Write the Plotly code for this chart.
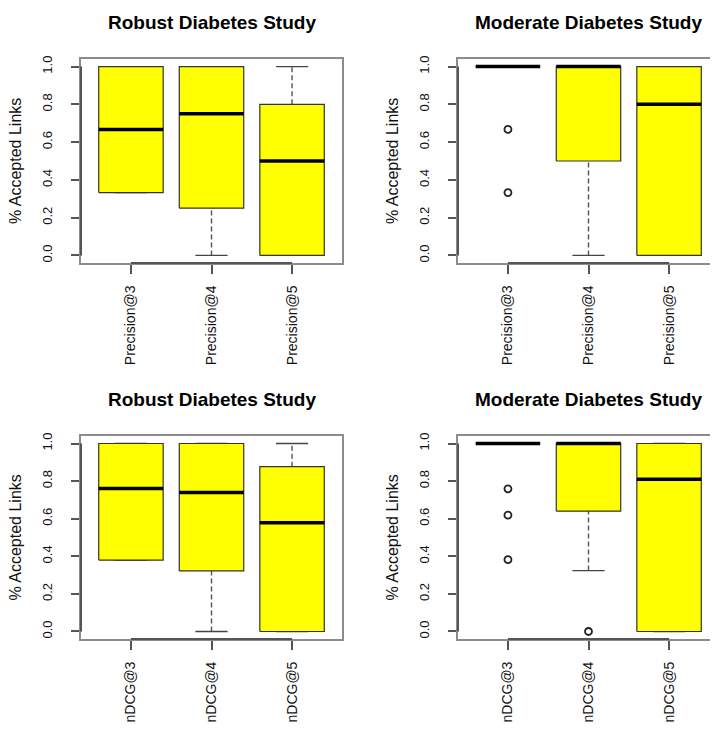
import plotly.graph_objects as go

# ---------------- data ----------------
precision_labels = ["Precision@3", "Precision@4", "Precision@5"]
ndcg_labels = ["nDCG@3", "nDCG@4", "nDCG@5"]
y_tick_vals = [0.0, 0.2, 0.4, 0.6, 0.8, 1.0]
y_tick_text = ["0.0", "0.2", "0.4", "0.6", "0.8", "1.0"]

panel_titles = ["Robust Diabetes Study", "Moderate Diabetes Study",
                "Robust Diabetes Study", "Moderate Diabetes Study"]
y_title = "% Accepted Links"

# Robust - precision
rp_q1 = [0.333, 0.25, 0.0]
rp_med = [0.667, 0.75, 0.5]
rp_q3 = [1.0, 1.0, 0.8]
rp_lo = [0.333, 0.0, 0.0]
rp_hi = [1.0, 1.0, 1.0]
rp_out = [[], [], []]

# Moderate - precision
mp_q1 = [1.0, 0.5, 0.0]
mp_med = [1.0, 1.0, 0.8]
mp_q3 = [1.0, 1.0, 1.0]
mp_lo = [1.0, 0.0, 0.0]
mp_hi = [1.0, 1.0, 1.0]
mp_out = [[0.667, 0.333], [], []]

# Robust - nDCG
rn_q1 = [0.38, 0.322, 0.0]
rn_med = [0.761, 0.740, 0.578]
rn_q3 = [1.0, 1.0, 0.877]
rn_lo = [0.38, 0.0, 0.0]
rn_hi = [1.0, 1.0, 1.0]
rn_out = [[], [], []]

# Moderate - nDCG
mn_q1 = [1.0, 0.64, 0.0]
mn_med = [1.0, 1.0, 0.81]
mn_q3 = [1.0, 1.0, 1.0]
mn_lo = [1.0, 0.324, 0.0]
mn_hi = [1.0, 1.0, 1.0]
mn_out = [[0.759, 0.619, 0.382], [0.0], []]

panels = [
    (precision_labels, rp_q1, rp_med, rp_q3, rp_lo, rp_hi, rp_out),
    (precision_labels, mp_q1, mp_med, mp_q3, mp_lo, mp_hi, mp_out),
    (ndcg_labels, rn_q1, rn_med, rn_q3, rn_lo, rn_hi, rn_out),
    (ndcg_labels, mn_q1, mn_med, mn_q3, mn_lo, mn_hi, mn_out),
]

# ---------------- layout geometry (pixels) ----------------
OFF = 8  # default page body margin
W, H = 718 - OFF, 731 - OFF
FONT = "Liberation Sans, Arial, Helvetica, sans-serif"
BOX_HALF = 0.4
STAPLE_HALF = 0.2
# plot-box page-pixel rectangles: (left, right, top, bottom)
page_rects = [(81, 342, 59, 263), (458, 718, 59, 263),
              (81, 342, 436, 639), (458, 718, 436, 639)]
rects = [(l - OFF, r - OFF, t - OFF, b - OFF) for (l, r, t, b) in page_rects]
PX_PER_UNIT = 261 / 3.24

fig = go.Figure()
layout = dict(width=W, height=H, autosize=False,
              margin=dict(l=0, r=0, t=0, b=0),
              paper_bgcolor="white", plot_bgcolor="white",
              showlegend=False, font=dict(family=FONT, color="black"))
annotations = []
shapes = []

for k, (labels, q1, med, q3, lo, hi, outs) in enumerate(panels):
    ax = "" if k == 0 else str(k + 1)
    xa, ya = "x" + ax, "y" + ax
    L, R, T, B = rects[k]
    R = min(R, W)
    xmin = 0.38
    xmax = xmin + (R - L) / PX_PER_UNIT
    n = len(labels)
    pos = list(range(1, n + 1))

    # whiskers (dashed) and staples
    wx, wy, sx, sy = [], [], [], []
    for i in range(n):
        c = pos[i]
        if lo[i] < q1[i]:
            wx += [c, c, None]; wy += [lo[i], q1[i], None]
        if hi[i] > q3[i]:
            wx += [c, c, None]; wy += [q3[i], hi[i], None]
        sx += [c - STAPLE_HALF, c + STAPLE_HALF, None, c - STAPLE_HALF, c + STAPLE_HALF, None]
        sy += [lo[i], lo[i], None, hi[i], hi[i], None]
    fig.add_trace(go.Scatter(x=wx, y=wy, mode="lines", xaxis=xa, yaxis=ya,
                             line=dict(color="#555555", width=1.4, dash="5px,3px"),
                             hoverinfo="skip"))
    fig.add_trace(go.Scatter(x=sx, y=sy, mode="lines", xaxis=xa, yaxis=ya,
                             line=dict(color="#444444", width=1.3), hoverinfo="skip"))
    # boxes
    bx, by = [], []
    for i in range(n):
        c = pos[i]
        bx += [c - BOX_HALF, c + BOX_HALF, c + BOX_HALF, c - BOX_HALF, c - BOX_HALF, None]
        by += [q1[i], q1[i], q3[i], q3[i], q1[i], None]
    fig.add_trace(go.Scatter(x=bx, y=by, mode="lines", fill="toself",
                             fillcolor="#FFFF00", xaxis=xa, yaxis=ya,
                             line=dict(color="#333333", width=1.2), hoverinfo="skip"))
    # medians
    mx, my = [], []
    for i in range(n):
        c = pos[i]
        mx += [c - BOX_HALF, c + BOX_HALF, None]
        my += [med[i], med[i], None]
    fig.add_trace(go.Scatter(x=mx, y=my, mode="lines", xaxis=xa, yaxis=ya,
                             line=dict(color="black", width=3.5), hoverinfo="skip"))
    # outliers
    ox, oy = [], []
    for i in range(n):
        for v in outs[i]:
            ox.append(pos[i]); oy.append(v)
    if ox:
        fig.add_trace(go.Scatter(x=ox, y=oy, mode="markers", xaxis=xa, yaxis=ya,
                                 marker=dict(symbol="circle-open", size=7,
                                             color="#222222", line=dict(width=1.8)),
                                 hoverinfo="skip"))

    xdom = [L / W, R / W]
    ydom = [1 - B / H, 1 - T / H]
    layout["xaxis" + ax] = dict(
        domain=xdom, range=[xmin, xmax], anchor=ya,
        tickmode="array", tickvals=pos, ticktext=labels, tickangle=-90,
        ticks="outside", ticklen=9, tickwidth=1.5, tickcolor="#555555",
        ticklabelstandoff=6,
        showline=True, mirror=True, linecolor="#8c8c8c", linewidth=2,
        showgrid=False, zeroline=False, automargin=False,
        tickfont=dict(size=14, family=FONT, color="#111111"))
    layout["yaxis" + ax] = dict(
        domain=ydom, range=[-0.04, 1.04], anchor=xa,
        tickmode="array", tickvals=y_tick_vals, ticktext=y_tick_text, tickangle=-90,
        ticks="outside", ticklen=8, tickwidth=1.5, tickcolor="#555555",
        ticklabelstandoff=14,
        showline=True, mirror=True, linecolor="#8c8c8c", linewidth=2,
        showgrid=False, zeroline=False, automargin=False,
        tickfont=dict(size=13, family=FONT, color="#111111"))

    # darker axis segments spanning first to last tick
    shapes.append(dict(type="line", xref=xa, yref=ya + " domain",
                       x0=pos[0], x1=pos[-1], y0=0, y1=0,
                       line=dict(color="#555555", width=2)))
    shapes.append(dict(type="line", xref=xa + " domain", yref=ya,
                       x0=0, x1=0, y0=y_tick_vals[0], y1=y_tick_vals[-1],
                       line=dict(color="#555555", width=2)))

    # panel title
    PL, PR = page_rects[k][0], page_rects[k][1]
    annotations.append(dict(text="<b>" + panel_titles[k] + "</b>",
                            x=((PL + PR) / 2 - OFF) / W, y=1 - (T - 37) / H,
                            xref="paper", yref="paper", showarrow=False,
                            xanchor="center", yanchor="middle",
                            font=dict(size=19, family=FONT, color="black")))
    # y axis title
    annotations.append(dict(text=y_title, x=(L - 66) / W, y=1 - ((T + B) / 2) / H,
                            xref="paper", yref="paper", showarrow=False,
                            textangle=-90, xanchor="center", yanchor="middle",
                            font=dict(size=16, family=FONT, color="#111111")))

layout["annotations"] = annotations
layout["shapes"] = shapes
fig.update_layout(**layout)
fig.write_html("out.html")
